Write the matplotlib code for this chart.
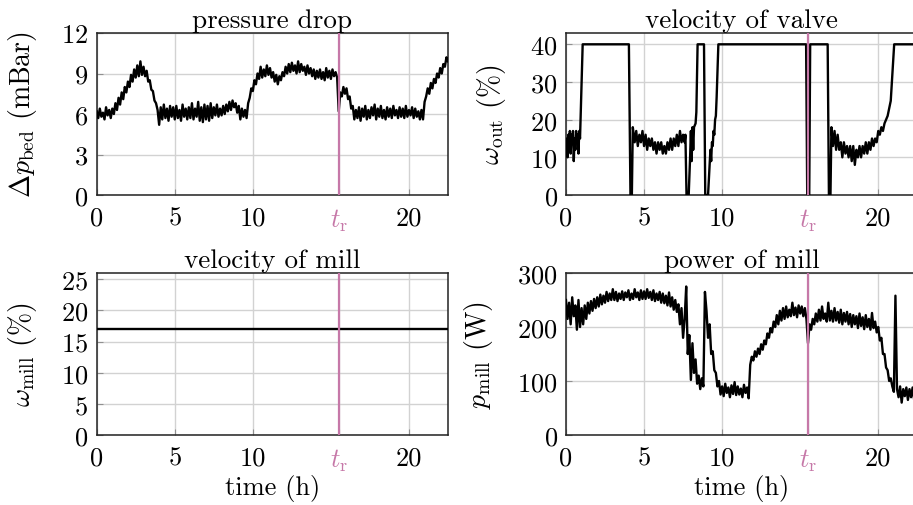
"""
Mill run overview: pressure drop, valve and mill velocity, mill power
over one run, with the reference time t_r marked in each panel.
"""

import numpy as np
import matplotlib
matplotlib.use("Agg")
import matplotlib.pyplot as plt

plt.rcParams.update({
    "font.family": "serif",
    "font.serif": ["cmr10"],
    "mathtext.fontset": "cm",
    "axes.formatter.use_mathtext": True,
    "axes.unicode_minus": False,
})

PINK = "#c678a8"
GRID = "#d2d2d2"
FS = 19

# --- Data ---
T_R = 15.5                      # reference time (h)
T_MAX = 22.5
X_TICKS = [0, 5, 10, T_R, 20]
X_TICKLABELS = ["0", "5", "10", r"$t_{\mathrm{r}}$", "20"]
STEP_H = 0.1                    # sampling step of the logged signals (h)

# pressure drop over the bed (mBar), one value per 0.1 h
dp_bed = [
    6.2, 5.7, 6.4, 5.8, 6.1, 5.6, 6.5, 5.9, 6.3, 5.7,
    6.4, 6.0, 6.8, 6.3, 7.2, 6.7, 7.6, 7.1, 8.0, 7.6,
    8.4, 8.0, 8.9, 8.4, 9.3, 8.7, 9.6, 8.8, 9.9, 8.9,
    9.5, 8.8, 9.2, 8.4, 8.5, 7.8, 7.7, 7.0, 6.8, 6.3,
    5.2, 6.5, 5.6, 6.7, 5.7, 6.4, 5.5, 6.6, 5.8, 6.5,
    5.6, 6.6, 5.7, 6.3, 5.5, 6.7, 5.8, 6.4, 5.6, 6.5,
    5.7, 6.8, 5.6, 6.4, 5.8, 6.9, 5.5, 6.5, 5.4, 6.7,
    5.6, 6.6, 5.5, 6.8, 5.7, 6.5, 5.9, 6.7, 5.8, 6.4,
    5.9, 6.6, 6.0, 6.7, 6.2, 6.9, 6.3, 7.0, 6.5, 6.8,
    6.1, 6.6, 5.6, 6.4, 5.8, 6.3, 5.7, 6.8, 7.2, 7.9,
    7.7, 8.5, 8.2, 9.0, 8.6, 9.5, 8.7, 9.3, 8.8, 9.6,
    8.9, 9.4, 8.7, 9.1, 8.4, 8.9, 8.2, 8.8, 8.5, 9.1,
    8.8, 9.5, 9.0, 9.7, 9.1, 9.8, 9.2, 9.6, 9.0, 9.9,
    9.1, 9.7, 9.2, 9.5, 8.9, 9.6, 9.0, 9.4, 8.8, 9.3,
    8.6, 9.2, 8.7, 9.3, 8.6, 9.1, 8.5, 9.4, 8.7, 9.2,
    8.6, 9.3, 8.8, 9.1, 8.7, 6.2, 7.6, 7.3, 8.0, 7.5,
    7.9, 7.1, 7.3, 6.4, 6.6, 5.6, 6.3, 5.7, 6.5, 5.5,
    6.4, 5.8, 6.6, 5.6, 6.3, 5.7, 6.5, 5.9, 6.7, 5.6,
    6.4, 5.8, 6.6, 5.7, 6.3, 5.6, 6.5, 5.8, 6.4, 5.7,
    6.6, 5.9, 6.3, 5.7, 6.5, 5.8, 6.4, 5.7, 6.6, 5.8,
    6.3, 5.9, 6.5, 5.7, 6.4, 5.8, 6.2, 5.6, 6.3, 5.6,
    6.9, 7.3, 7.9, 7.5, 8.3, 7.9, 8.6, 8.3, 9.0, 8.7,
    9.4, 9.0, 9.7, 9.5, 10.2, 9.9,
]

# valve velocity (%), irregular time stamps because of the hard switching
valve_t = [
    0.0, 0.05, 0.1, 0.15, 0.2, 0.25, 0.3, 0.35, 0.4, 0.45,
    0.5, 0.55, 0.6, 0.65, 0.7, 0.75, 0.8, 0.85, 0.9, 1.07,
    4.03, 4.13, 4.22, 4.28, 4.4, 4.5, 4.6, 4.7, 4.8, 4.9,
    5.0, 5.1, 5.2, 5.3, 5.4, 5.5, 5.6, 5.7, 5.8, 5.9,
    6.0, 6.1, 6.2, 6.3, 6.4, 6.5, 6.6, 6.7, 6.8, 6.9,
    7.0, 7.1, 7.2, 7.3, 7.4, 7.5, 7.6, 7.65, 7.72, 7.86,
    7.95, 8.0, 8.05, 8.1, 8.15, 8.2, 8.3, 8.35, 8.43, 8.84,
    8.92, 9.1, 9.2, 9.25, 9.3, 9.35, 9.4, 9.45, 9.5, 9.55,
    9.6, 9.65, 9.76, 15.38, 15.45, 15.58, 15.64, 16.76, 16.84, 16.94,
    17.0, 17.1, 17.2, 17.3, 17.4, 17.5, 17.6, 17.7, 17.8, 17.9,
    18.0, 18.1, 18.2, 18.3, 18.4, 18.5, 18.6, 18.7, 18.8, 18.9,
    19.0, 19.1, 19.2, 19.3, 19.4, 19.5, 19.6, 19.7, 19.8, 19.9,
    20.0, 20.1, 20.2, 20.3, 20.4, 20.5, 20.6, 20.7, 20.8, 20.9,
    21.02, 22.5,
]
valve_v = [
    12, 15, 10, 16, 13, 17, 11, 16, 14, 17,
    9, 15, 12, 17, 14, 16, 11, 17, 15, 40,
    40, 0, 0, 18, 14, 17, 13, 16, 14, 17,
    13, 16, 12, 15, 13, 15, 12, 14, 11, 14,
    12, 14, 11, 13, 11, 14, 12, 15, 12, 15,
    13, 16, 13, 17, 14, 16, 14, 16, 0, 0,
    10, 17, 9, 18, 12, 18, 19, 22, 40, 40,
    0, 0, 8, 12, 9, 14, 13, 17, 16, 20,
    21, 26, 40, 40, 0, 0, 40, 40, 0, 0,
    18, 13, 17, 12, 16, 12, 14, 10, 14, 11,
    13, 10, 13, 9, 13, 8, 12, 10, 13, 10,
    13, 11, 14, 11, 14, 12, 15, 13, 15, 14,
    17, 16, 18, 17, 19, 20, 21, 23, 25, 32,
    40, 40,
]

# mill velocity (%), held constant over the run
mill_t = [0.0, T_MAX]
mill_v = [17, 17]

# mill power (W), one value per 0.1 h
p_mill = [
    250, 215, 245, 205, 255, 220, 240, 195, 250, 200,
    235, 205, 240, 215, 245, 225, 248, 230, 252, 235,
    255, 238, 260, 242, 258, 245, 265, 248, 262, 250,
    270, 250, 265, 248, 262, 252, 266, 250, 264, 255,
    268, 250, 262, 252, 270, 255, 264, 250, 268, 252,
    266, 252, 270, 254, 265, 250, 268, 248, 262, 250,
    265, 245, 262, 244, 258, 240, 264, 238, 255, 232,
    250, 228, 242, 205, 235, 180, 215, 275, 150, 185,
    102, 170, 115, 140, 95, 110, 85, 105, 90, 265,
    230, 180, 205, 150, 155, 120, 115, 90, 100, 75,
    90, 72, 95, 78, 88, 70, 92, 76, 98, 74,
    90, 75, 86, 70, 93, 78, 88, 68, 130, 145,
    138, 155, 145, 160, 150, 168, 158, 175, 168, 188,
    180, 198, 190, 210, 200, 222, 205, 230, 212, 235,
    215, 238, 218, 232, 220, 245, 222, 236, 218, 240,
    225, 238, 220, 235, 215, 170, 205, 195, 215, 205,
    225, 210, 232, 212, 238, 215, 225, 210, 245, 212,
    230, 210, 235, 212, 228, 208, 232, 205, 226, 210,
    228, 205, 224, 200, 222, 205, 220, 198, 225, 202,
    218, 196, 222, 200, 215, 195, 226, 198, 210, 190,
    200, 175, 180, 150, 150, 125, 120, 100, 105, 90,
    80, 258, 85, 70, 90, 60, 85, 72, 88, 65,
    85, 70, 88, 65, 82, 75,
]

t_dp = np.arange(len(dp_bed)) * STEP_H
t_pm = np.arange(len(p_mill)) * STEP_H

# --- Plot ---
fig = plt.figure(figsize=(9.13, 5.06), dpi=100)

W, H = 0.3848, 0.3202
panels = [
    # (rect, x, y, title, ylabel, ylim, yticks, show xlabel)
    ([0.1059, 0.6126, W, H], t_dp, dp_bed, "pressure drop",
     r"$\Delta p_{\mathrm{bed}}$ (mBar)", (0, 12), [0, 3, 6, 9, 12], False),
    ([0.6199, 0.6126, W, H], valve_t, valve_v, "velocity of valve",
     r"$\omega_{\mathrm{out}}$ (%)", (0, 43), [0, 10, 20, 30, 40], False),
    ([0.1059, 0.1383, W, H], mill_t, mill_v, "velocity of mill",
     r"$\omega_{\mathrm{mill}}$ (%)", (0, 26), [0, 5, 10, 15, 20, 25], True),
    ([0.6199, 0.1383, W, H], t_pm, p_mill, "power of mill",
     r"$p_{\mathrm{mill}}$ (W)", (0, 300), [0, 100, 200, 300], True),
]

for rect, x, y, title, ylabel, ylim, yticks, with_xlabel in panels:
    ax = fig.add_axes(rect)
    ax.plot(x, y, color="black", lw=1.7, zorder=3)
    ax.axvline(T_R, color=PINK, lw=1.6, zorder=4)

    ax.set_xlim(0, T_MAX)
    ax.set_ylim(*ylim)
    ax.set_xticks(X_TICKS)
    ax.set_xticklabels(X_TICKLABELS)
    ax.get_xticklabels()[3].set_color(PINK)
    ax.set_yticks(yticks)
    ax.grid(True, color=GRID, lw=1.0, zorder=0)
    ax.tick_params(direction="in", length=4, color="#909090",
                   labelsize=FS)
    ax.tick_params(axis="y", pad=6)
    ax.tick_params(axis="x", pad=8)
    for s in ax.spines.values():
        s.set_color("#222222")
        s.set_linewidth(1.1)

    ax.set_title(title, fontsize=FS + 0.5, pad=4)
    ax.set_ylabel(ylabel, fontsize=FS + 1, labelpad=16)
    if with_xlabel:
        ax.set_xlabel("time (h)", fontsize=FS, labelpad=1)

fig.savefig("out.png", dpi=100)
plt.close(fig)
